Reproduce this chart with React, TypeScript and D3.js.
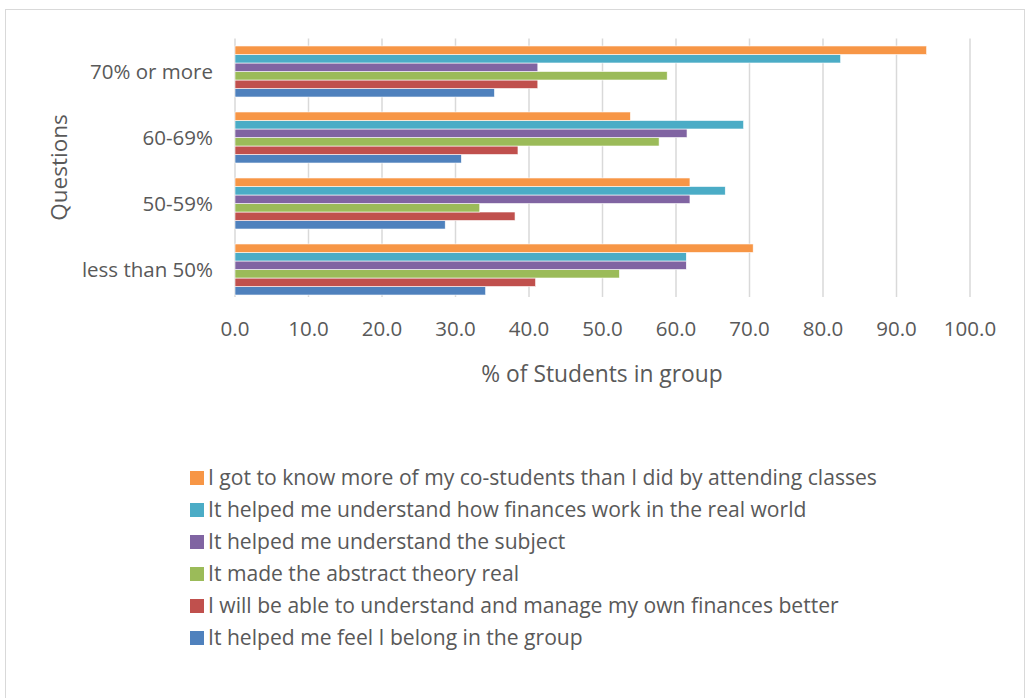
import React from "react";
import * as d3 from "d3";

const categories = ["less than 50%", "50-59%", "60-69%", "70% or more"];
const seriesNames = [
  "It helped me feel I belong in the group",
  "I will be able to understand and manage my own finances better",
  "It made the abstract theory real",
  "It helped me understand the subject",
  "It helped me understand how finances work in the real world",
  "I got to know more of my co-students than I did by attending classes",
];
const seriesColors = ["#4F81BD", "#C0504D", "#9BBB59", "#8064A2", "#4BACC6", "#F79646"];
// values per series, in category order (less than 50%, 50-59%, 60-69%, 70% or more)
const belongValues = [34.1, 28.6, 30.8, 35.3];
const manageValues = [40.9, 38.1, 38.5, 41.2];
const theoryValues = [52.3, 33.3, 57.7, 58.8];
const subjectValues = [61.4, 61.9, 61.5, 41.2];
const realWorldValues = [61.4, 66.7, 69.2, 82.4];
const coStudentsValues = [70.5, 61.9, 53.8, 94.1];
const seriesValues = [belongValues, manageValues, theoryValues, subjectValues, realWorldValues, coStudentsValues];
const xTicks = [0, 10, 20, 30, 40, 50, 60, 70, 80, 90, 100];

const FONT = "'Open Sans', Lato, sans-serif";
const TEXT = "#595959";

export default function App() {
  const W = 1028, H = 698;
  const left = 235, right = 970, top = 38.5, bottom = 302.5;
  const x = d3.scaleLinear().domain([0, 100]).range([left, right]);
  const y = d3.scaleBand().domain([...categories].reverse()).range([top, bottom]);
  const inner = d3
    .scaleBand()
    .domain(d3.range(seriesNames.length).map(String).reverse())
    .range([0, y.bandwidth()])
    .paddingOuter(0.88)
    .paddingInner(0);

  const legendOrder = d3.range(seriesNames.length).reverse();

  return (
    <svg width={W} height={H} style={{ position: "absolute", left: 0, top: 0, fontFamily: FONT }}>
      <rect x={0} y={0} width={W} height={H} fill="#fff" />
      <rect x={5.5} y={9.5} width={1019} height={700} fill="none" stroke="#d9d9d9" strokeWidth={1} />
      {xTicks.map((t) => (
        <line key={t} x1={x(t)} x2={x(t)} y1={top} y2={297} stroke="#d9d9d9" strokeWidth={1.5} />
      ))}
      {categories.map((c, ci) =>
        seriesValues.map((vals, si) => (
          <rect
            key={c + si}
            x={x(0)}
            y={(y(c) as number) + (inner(String(si)) as number)}
            width={x(vals[ci]) - x(0)}
            height={inner.bandwidth()}
            fill={seriesColors[si]}
            stroke="#fff"
            strokeWidth={0.6}
          />
        ))
      )}
      {xTicks.map((t) => (
        <text key={t} x={x(t)} y={336} textAnchor="middle" fontSize={20.5} fill={TEXT}>
          {d3.format(".1f")(t)}
        </text>
      ))}
      {categories.map((c) => (
        <text
          key={c}
          x={213}
          y={(y(c) as number) + y.bandwidth() / 2}
          dy="0.35em"
          textAnchor="end"
          fontSize={20.5}
          fill={TEXT}
        >
          {c}
        </text>
      ))}
      <text x={602} y={382} textAnchor="middle" fontSize={22.8} fill={TEXT}>
        % of Students in group
      </text>
      <text
        transform={`translate(67,${(top + bottom) / 2 - 3}) rotate(-90)`}
        textAnchor="middle"
        fontSize={22.5}
        fill={TEXT}
      >
        Questions
      </text>
      {legendOrder.map((si, i) => (
        <g key={si} transform={`translate(190,${478 + i * 32})`}>
          <rect x={0} y={-7} width={14} height={14} fill={seriesColors[si]} />
          <text x={18} y={0} dy="0.35em" fontSize={21.1} fill={TEXT}>
            {seriesNames[si]}
          </text>
        </g>
      ))}
    </svg>
  );
}
